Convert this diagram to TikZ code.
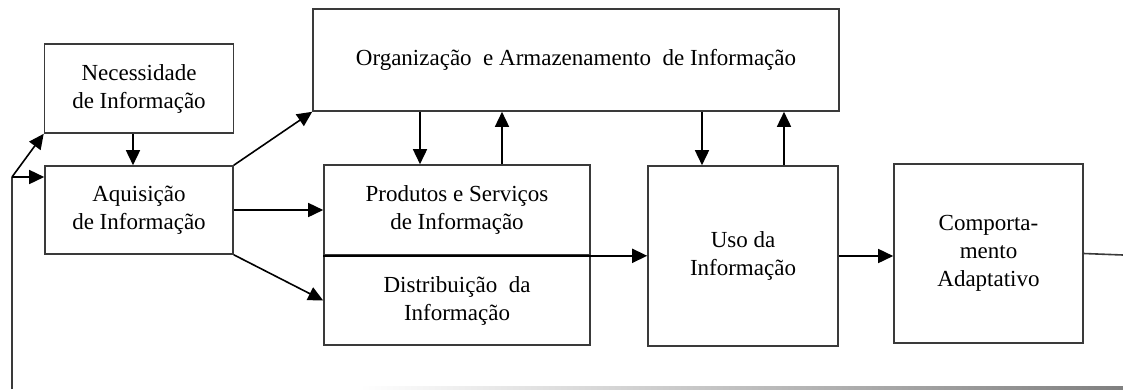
\documentclass[tikz,border=0pt]{standalone}
\usepackage{fontspec}
\setmainfont{Liberation Serif}
\usetikzlibrary{arrows.meta, positioning, calc}
\definecolor{LineGray}{HTML}{3A3A3A}
\tikzset{
  ibox/.style={draw=LineGray, line width=1.6pt, rectangle, align=center,
    inner sep=0pt, font=\fontsize{23}{28}\selectfont},
  flow/.style={-{Triangle[length=15pt,width=14pt]}, line width=1.6pt, draw=black},
  link/.style={line width=1.6pt, draw=LineGray},
}

\begin{document}
\begin{tikzpicture}[x=1pt, y=-1pt]
    \useasboundingbox (0,0) rectangle (1123,389);
    \node[ibox, minimum width=189pt, minimum height=89pt] (nec) at (139,88.5) {Necessidade\\de Informação};
    \node[ibox, minimum width=188pt, minimum height=88pt] (aqu) at (139,210) {Aquisição\\de Informação};
    \node[ibox, minimum width=526pt, minimum height=102pt] (org) at (576,60) {Organização\ \ e Armazenamento\ \ de Informação};
    \node[ibox, minimum width=266pt, minimum height=90pt] (prod) at (457,210) {Produtos e Serviços\\de Informação};
    \node[ibox, minimum width=266pt, minimum height=89pt] (dist) at (457,300.5) {Distribuição\ \ da\\Informação};
    \node[ibox, minimum width=190pt, minimum height=180pt] (uso) at (743,256) {Uso da\\Informação};
    \node[ibox, minimum width=189pt, minimum height=179pt] (comp) at (988.5,253.5) {Comporta-\\mento\\Adaptativo};
    \coordinate (fb) at (12,177);
    \coordinate (fbend) at (12,389);
    \coordinate (out) at (1123,255);
    \draw[flow] ([xshift=-6pt]nec.south) -- ([xshift=-6pt]aqu.north);
    \draw[flow] (aqu.north east) -- (org.south west);
    \draw[flow] (aqu.east) -- (prod.west);
    \draw[flow] (aqu.south east) -- (dist.west);
    \draw[flow] ([xshift=-37pt]org.south -| prod.north) -- ([xshift=-37pt]prod.north);
    \draw[flow] ([xshift=45pt]prod.north) -- ([xshift=45pt]org.south -| prod.north);
    \draw[flow] ([xshift=-41pt]org.south -| uso.north) -- ([xshift=-41pt]uso.north);
    \draw[flow] ([xshift=41pt]uso.north) -- ([xshift=41pt]org.south -| uso.north);
    \draw[flow] (prod.south west) -- (prod.south west -| uso.west);
    \draw[flow] (uso.east) -- (uso.east -| comp.west);
    \draw[link] (comp.east) -- (out);
    % feedback
    \draw[link] (fbend) -- (fb);
    \draw[flow] (fb) -- (fb -| aqu.west);
    \draw[flow] (fb) -- (nec.south west);
    \shade[left color=white, right color=gray] (360,386) rectangle (1123,389);
\end{tikzpicture}
\end{document}
